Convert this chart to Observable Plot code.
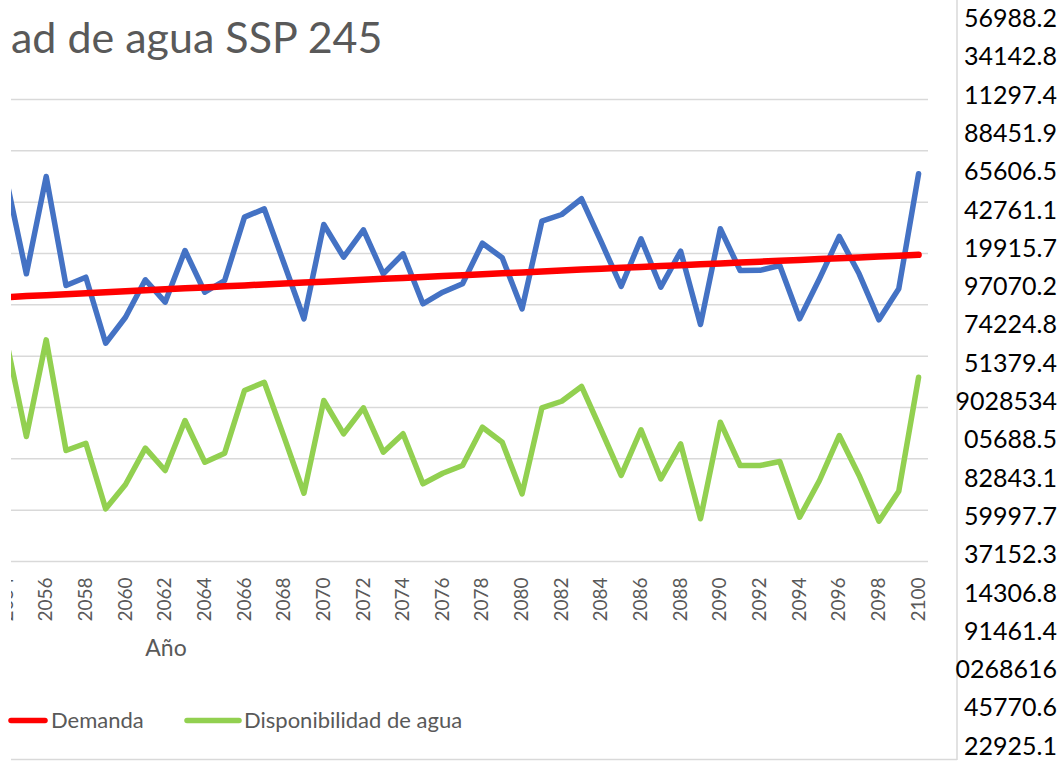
<!DOCTYPE html>
<html><head><meta charset="utf-8">
<script src="https://cdn.jsdelivr.net/npm/d3@7"></script>
<script src="https://cdn.jsdelivr.net/npm/@observablehq/plot@0.6"></script>
<style>
html,body{margin:0;padding:0;background:#fff;width:1060px;height:761px;overflow:hidden;font-family:Lato,sans-serif}
#clip{position:absolute;left:11px;top:0;width:946px;height:761px;overflow:hidden}
#chart{position:absolute;left:-40px;top:0}
#overlay{position:absolute;left:0;top:0}
</style></head><body>
<div id="clip"><div id="chart"></div></div>
<svg id="overlay" width="1060" height="761"></svg>
<script>
const years = [2054,2055,2056,2057,2058,2059,2060,2061,2062,2063,2064,2065,2066,2067,2068,2069,2070,2071,2072,2073,2074,2075,2076,2077,2078,2079,2080,2081,2082,2083,2084,2085,2086,2087,2088,2089,2090,2091,2092,2093,2094,2095,2096,2097,2098,2099,2100];
const oferta = [371.1,280.2,375.0,268.8,276.9,212.6,237.9,274.4,252.6,302.9,262.3,273.7,335.4,343.5,290.0,236.4,328.2,296.4,323.1,280.2,299.7,251.0,262.3,270.5,310.0,295.8,246.1,331.5,338.0,353.3,311.0,267.9,314.3,267.2,302.2,230.8,324.1,283.4,283.6,288.3,236.4,275.4,316.6,280.2,235.4,265.6,377.6];
const demanda = [257.5,258.5,259.4,260.4,261.3,262.3,263.2,264.2,265.1,266.1,267.0,268.0,268.9,269.9,270.8,271.7,272.6,273.5,274.4,275.3,276.2,277.1,278.0,278.9,279.8,280.7,281.6,282.5,283.4,284.3,285.2,286.1,286.9,287.8,288.6,289.5,290.3,291.2,292.0,292.9,293.7,294.6,295.4,296.2,297.1,297.9,298.7];
const disponibilidad = [214.3,121.8,215.9,108.1,115.2,51.3,75.0,110.4,88.6,137.3,96.7,105.5,166.6,174.6,121.1,66.5,156.8,124.4,149.7,106.5,124.4,75.7,86.0,93.5,130.8,116.2,65.9,149.7,156.1,170.5,127.6,83.8,128.3,80.5,114.6,41.6,135.7,93.5,93.5,97.4,43.1,78.9,122.7,83.8,39.3,68.5,179.5];
const gridValues = [0,50,100,150,200,250,300,350,400,450];
const tickYears = [2054,2056,2058,2060,2062,2064,2066,2068,2070,2072,2074,2076,2078,2080,2082,2084,2086,2088,2090,2092,2094,2096,2098,2100];
const titleText = "ad de agua SSP 245";
const xTitle = "Año";
const legendLabels = ["Demanda", "Disponibilidad de agua"];
const sideNumbers = ["56988.2","34142.8","11297.4","88451.9","65606.5","42761.1","19915.7","97070.2","74224.8","51379.4","9028534","05688.5","82843.1","59997.7","37152.3","14306.8","91461.4","0268616","45770.6","22925.1"];

const rows = (vals) => years.map((y, i) => ({year: y, value: vals[i]}));
const lineStyle = {strokeLinejoin: "round", strokeLinecap: "round"};

const chart = Plot.plot({
  width: 967,
  height: 641,
  marginLeft: 40,
  marginRight: 10,
  marginTop: 99,
  marginBottom: 80,
  style: {background: "transparent", fontFamily: "Lato, sans-serif"},
  x: {type: "linear", domain: [2054.25, 2100.5], axis: null},
  y: {domain: [0, 450], axis: null},
  marks: [
    Plot.ruleY(gridValues, {stroke: "#d9d9d9", strokeWidth: 1.5}),
    Plot.lineY(rows(oferta), {x: "year", y: "value", stroke: "#4472C4", strokeWidth: 5.5, ...lineStyle}),
    Plot.lineY(rows(disponibilidad), {x: "year", y: "value", stroke: "#92D050", strokeWidth: 5.5, ...lineStyle}),
    Plot.lineY(rows(demanda), {x: "year", y: "value", stroke: "#FF0000", strokeWidth: 6.5, ...lineStyle}),
    Plot.text(tickYears, {x: d => d, frameAnchor: "bottom", dy: 16, rotate: -90, textAnchor: "end", lineAnchor: "middle", text: d => String(d), fontSize: 19, fill: "#595959"})
  ]
});
document.getElementById("chart").appendChild(chart);

const svg = d3.select("#overlay");
const grey = "#595959";
svg.append("text").attr("x", 11).attr("y", 53).attr("font-family", "Lato").attr("font-size", 43).attr("fill", grey).text(titleText);
svg.append("text").attr("x", 166).attr("y", 656).attr("text-anchor", "middle").attr("font-family", "Lato").attr("font-size", 23).attr("fill", grey).text(xTitle);
// legend
svg.append("line").attr("x1", 11).attr("x2", 45).attr("y1", 720.5).attr("y2", 720.5).attr("stroke", "#FF0000").attr("stroke-width", 5.5).attr("stroke-linecap", "round");
svg.append("text").attr("x", 51).attr("y", 728).attr("font-family", "Lato").attr("font-size", 22).attr("fill", grey).text(legendLabels[0]);
svg.append("line").attr("x1", 187).attr("x2", 239).attr("y1", 720.5).attr("y2", 720.5).attr("stroke", "#92D050").attr("stroke-width", 5.5).attr("stroke-linecap", "round");
svg.append("text").attr("x", 244).attr("y", 728).attr("font-family", "Lato").attr("font-size", 22).attr("fill", grey).text(legendLabels[1]);
// chart border
svg.append("line").attr("x1", 957).attr("x2", 957).attr("y1", 0).attr("y2", 760).attr("stroke", "#d9d9d9").attr("stroke-width", 1.5);
svg.append("line").attr("x1", 11).attr("x2", 957).attr("y1", 759.5).attr("y2", 759.5).attr("stroke", "#d9d9d9").attr("stroke-width", 1.5);
// spreadsheet cells to the right
sideNumbers.forEach((s, i) => {
  svg.append("text").attr("x", 1057).attr("y", 27 + 38.3 * i).attr("text-anchor", "end").attr("font-family", "Lato").attr("font-size", 25).attr("fill", "#000").text(s);
});
</script>
</body></html>
